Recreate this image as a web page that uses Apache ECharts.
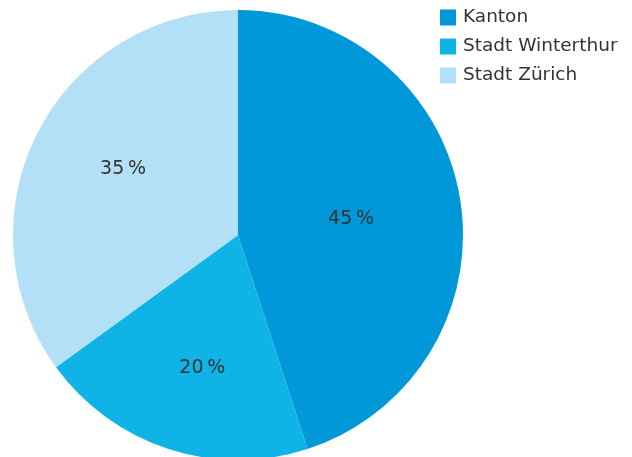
<!DOCTYPE html>
<html><head><meta charset="utf-8">
<script src="https://cdn.jsdelivr.net/npm/echarts@6/dist/echarts.min.js"></script>
<style>html,body{margin:0;padding:0;background:#fff}#c{width:632px;height:457px}</style>
</head><body><div id="c"></div>
<script>
const categories = ['Kanton', 'Stadt Winterthur', 'Stadt Zürich'];
const values = [45, 20, 35];
const colors = ['#0098d9', '#10b3e6', '#b3e0f6'];
const labelOffsets = [[-1, 2], [0, 23], [-12, -14]];

const chart = echarts.init(document.getElementById('c'), null, {renderer: 'canvas'});
chart.setOption({
  animation: false,
  legend: {
    orient: 'vertical', left: 435, top: 3,
    itemWidth: 16, itemHeight: 16, itemGap: 10, icon: 'rect',
    textStyle: {fontFamily: 'DejaVu Sans', fontSize: 18.5, color: '#333', padding: [0, 0, 0, 2]},
    data: categories
  },
  series: [{
    type: 'pie', center: [238, 235], radius: 225,
    startAngle: 90, clockwise: true,
    label: {
      position: 'inside', fontFamily: 'DejaVu Sans', fontSize: 19, color: '#333',
      formatter: p => p.value + '\u2009%'
    },
    labelLine: {show: false},
    emphasis: {disabled: true},
    itemStyle: {borderWidth: 0},
    data: categories.map((c, i) => ({
      name: c, value: values[i],
      itemStyle: {color: colors[i]},
      label: {offset: labelOffsets[i]}
    }))
  }]
});
</script></body></html>
